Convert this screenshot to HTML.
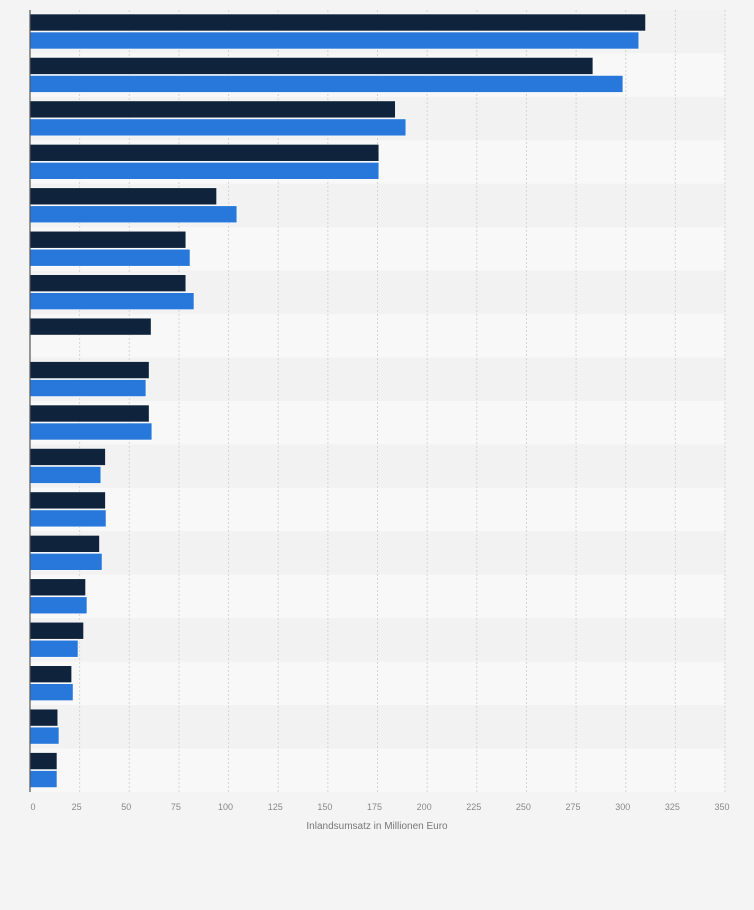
<!DOCTYPE html>
<html><head><meta charset="utf-8"><style>
body{margin:0;background:#f4f4f4;font-family:"Liberation Sans",sans-serif}
svg{display:block}
</style></head><body>
<svg id="chart" width="754" height="910" xmlns="http://www.w3.org/2000/svg">
<rect x="0" y="0" width="754" height="910" fill="#f4f4f4"/>
<g id="bands"></g><g id="grid"></g><g id="bars"></g><g id="ticks"></g>
<line x1="30" y1="10" x2="30" y2="792" stroke="#555" stroke-width="1.2"/>
<text x="377" y="829" font-size="10" fill="#777" text-anchor="middle">Inlandsumsatz in Millionen Euro</text>
</svg>
<script>
const categories=["1","2","3","4","5","6","7","8","9","10","11","12","13","14","15","16","17","18"];
const series1=[310,283.5,184,175.7,94,78.5,78.5,61,60,60,38,38,35,28,27,21,14,13.6];
const series2=[306.6,298.6,189.3,175.7,104.2,80.6,82.6,0,58.4,61.4,35.7,38.3,36.3,28.7,24.2,21.7,14.6,13.6];
const ticks=[0,25,50,75,100,125,150,175,200,225,250,275,300,325,350];
const NS="http://www.w3.org/2000/svg";
const x0=30,x1=725,maxV=350,plotTop=10,plotBottom=792;
const xs=v=>x0+v/maxV*(x1-x0);
const gh=(plotBottom-plotTop)/categories.length;
function mk(tag,attrs,parent){const e=document.createElementNS(NS,tag);for(const k in attrs)e.setAttribute(k,attrs[k]);document.getElementById(parent).appendChild(e);return e;}
categories.forEach((c,i)=>{
  const b=mk('rect',{x:x0,y:plotTop+i*gh,width:x1-x0,height:gh,fill:i%2?'#f8f8f8':'#f2f2f2'},'bands');
  
  
  const y=plotTop+i*gh+4;
  if(series1[i]>0){const r=mk('rect',{x:x0,y:y,width:xs(series1[i])-x0,height:17,fill:'#0f243c',stroke:'#fff','stroke-width':0.6},'bars');
  
  }
  if(series2[i]>0){const r=mk('rect',{x:x0,y:y+18,width:xs(series2[i])-x0,height:17,fill:'#2878dc',stroke:'#fff','stroke-width':0.6},'bars');
  
  }
});
ticks.forEach(t=>{
  if(t>0){const g=mk('line',{x1:xs(t),x2:xs(t),y1:plotTop,y2:plotBottom,stroke:'#d4d4d4','stroke-dasharray':'2,2','stroke-width':1},'grid');
  
  }
  const l=mk('text',{x:t===0?33:xs(t)-3,y:810,'font-size':9,fill:'#888','text-anchor':'middle'},'ticks');
  l.textContent=t;
  
  
});
</script>
</body></html>
